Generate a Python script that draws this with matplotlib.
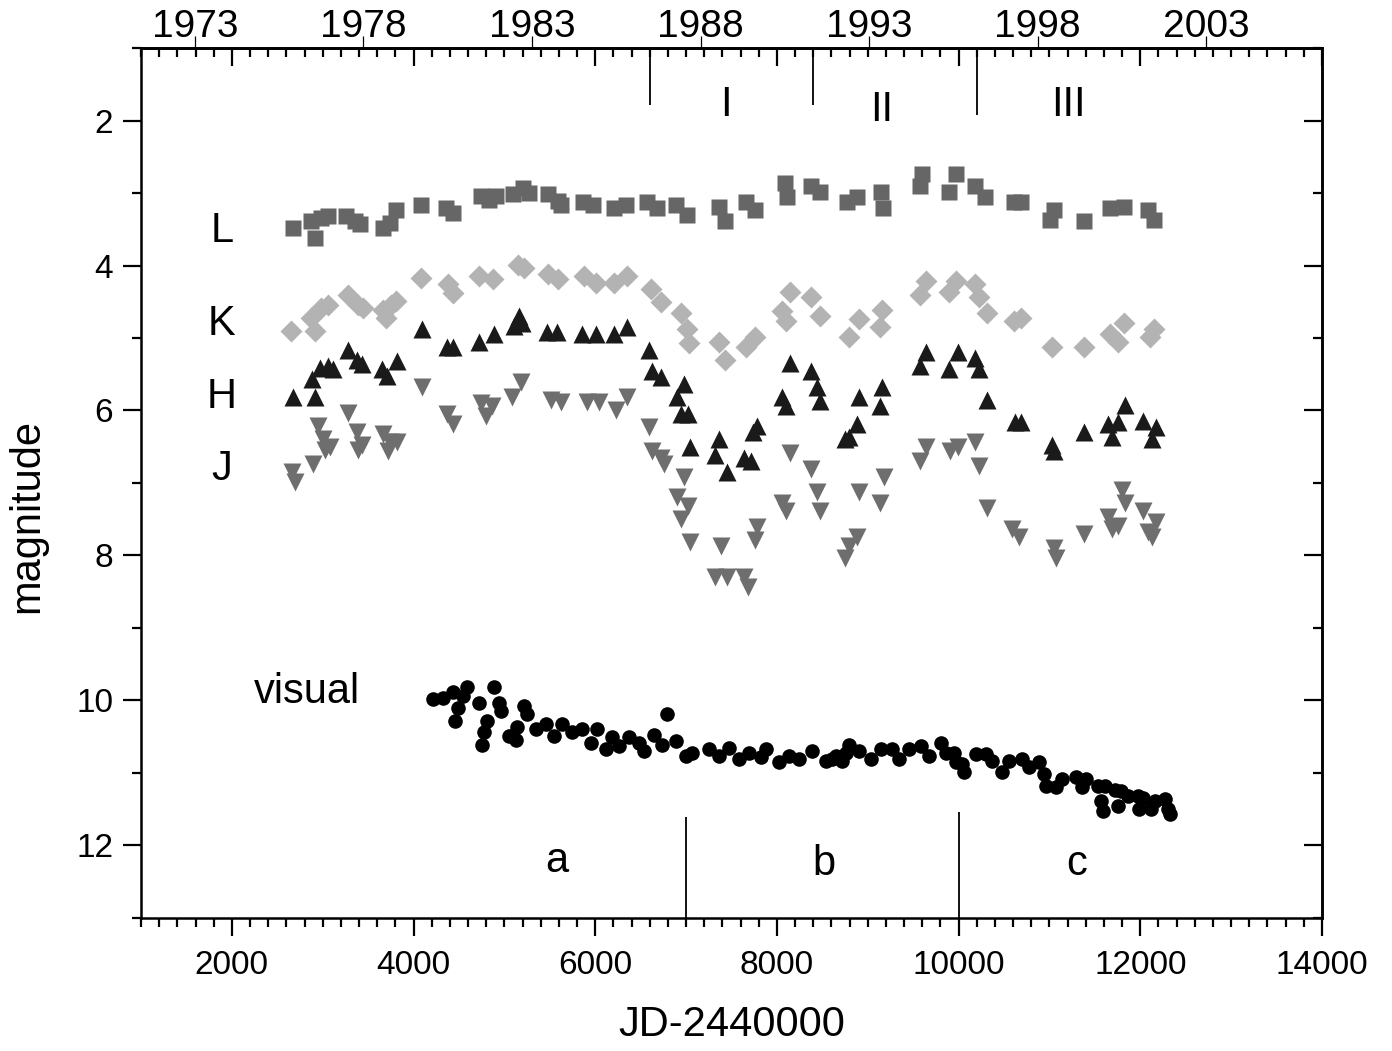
import numpy as np
import matplotlib
matplotlib.use("Agg")
import matplotlib.pyplot as plt
from matplotlib.ticker import MultipleLocator, NullFormatter

plt.rcParams['font.family'] = ['Liberation Sans', 'DejaVu Sans']

# L band (squares)
L_jd = [2674, 2876, 2912, 2986, 3058, 3261, 3352, 3407, 3663, 3736, 3810, 4085, 4360, 4432, 4744,
        4835, 4909, 5092, 5201, 5275, 5476, 5586, 5623, 5861, 5971, 6209, 6338, 6575, 6685, 6887,
        7015, 7363, 7429, 7660, 7759, 8090, 8110, 8374, 8473, 8770, 8880, 9150, 9170, 9594, 9572,
        9968, 9891, 10177, 10286, 10605, 10682, 11045, 11001, 11375, 11671, 11825, 12089, 12155]
L_mag = [3.48, 3.39, 3.62, 3.34, 3.32, 3.32, 3.39, 3.43, 3.48, 3.41, 3.23, 3.16, 3.20, 3.27, 3.04,
         3.09, 3.04, 3.02, 2.93, 3.00, 3.02, 3.11, 3.16, 3.13, 3.16, 3.20, 3.16, 3.13, 3.20, 3.16,
         3.30, 3.19, 3.39, 3.12, 3.23, 2.86, 3.05, 2.91, 2.98, 3.13, 3.06, 2.99, 3.20, 2.74, 2.91,
         2.74, 2.98, 2.91, 3.06, 3.12, 3.12, 3.23, 3.37, 3.39, 3.20, 3.19, 3.23, 3.37]

# K band (diamonds)
K_jd = [2656, 2912, 2876, 2986, 3058, 3278, 3388, 3443, 3663, 3755, 3810, 3700, 4085, 4378, 4432,
        4726, 4872, 5147, 5220, 5476, 5586, 5879, 6008, 6209, 6355, 6612, 6722, 6942, 7015, 7033,
        7363, 7429, 7660, 7759, 8143, 8055, 8099, 8374, 8473, 8792, 8902, 9155, 9133, 9638, 9572,
        9968, 9891, 10177, 10221, 10308, 10605, 10682, 11023, 11375, 11671, 11825, 11759, 12111, 12155]
K_mag = [4.91, 4.91, 4.72, 4.58, 4.54, 4.40, 4.54, 4.58, 4.61, 4.54, 4.49, 4.72, 4.17, 4.26, 4.38,
         4.15, 4.19, 3.99, 4.03, 4.12, 4.19, 4.15, 4.24, 4.24, 4.15, 4.33, 4.51, 4.65, 4.88, 5.07,
         5.06, 5.30, 5.12, 4.98, 4.37, 4.63, 4.77, 4.44, 4.70, 4.98, 4.74, 4.61, 4.85, 4.22, 4.40,
         4.22, 4.37, 4.26, 4.43, 4.65, 4.77, 4.72, 5.13, 5.12, 4.95, 4.79, 5.05, 4.98, 4.88]

# H band (up triangles)
H_jd = [2670, 2912, 2879, 2967, 3055, 3110, 3275, 3374, 3429, 3649, 3813, 3703, 4088, 4363, 4429,
        4726, 4890, 5165, 5198, 5110, 5473, 5583, 5857, 6011, 6209, 6352, 6594, 6627, 6726, 6979,
        6902, 6946, 7022, 7044, 7363, 7319, 7451, 7638, 7715, 7781, 7737, 8143, 8055, 8099, 8374,
        8440, 8473, 8902, 9155, 9133, 8880, 8792, 8748, 9638, 9572, 9990, 9891, 10177, 10221, 10308,
        10616, 10682, 11023, 11045, 11375, 11649, 11759, 11693, 11836, 12034, 12177, 12133]
H_mag = [5.82, 5.82, 5.57, 5.41, 5.39, 5.43, 5.16, 5.30, 5.36, 5.43, 5.32, 5.53, 4.88, 5.13, 5.13,
         5.05, 4.95, 4.70, 4.79, 4.84, 4.92, 4.92, 4.95, 4.95, 4.95, 4.85, 5.16, 5.46, 5.54, 5.64,
         5.81, 6.05, 6.05, 6.50, 6.40, 6.61, 6.85, 6.65, 6.70, 6.22, 6.30, 5.34, 5.82, 5.94, 5.46,
         5.67, 5.87, 5.82, 5.67, 5.94, 6.19, 6.36, 6.40, 5.19, 5.39, 5.19, 5.43, 5.27, 5.43, 5.85,
         6.16, 6.16, 6.47, 6.56, 6.30, 6.19, 6.16, 6.36, 5.92, 6.15, 6.23, 6.40]

# J band (down triangles)
J_jd = [2659, 2692, 2890, 2945, 3000, 3077, 3022, 3275, 3374, 3429, 3385, 3659, 3736, 3813, 3714,
        4088, 4363, 4429, 4748, 4802, 4868, 5088, 5187, 5517, 5627, 5912, 6044, 6231, 6352, 6594,
        6627, 6726, 6759, 6979, 6902, 7022, 6946, 7044, 7385, 7319, 7451, 7682, 7638, 7759, 7781,
        8143, 8055, 8099, 8374, 8440, 8473, 8902, 9177, 9133, 8880, 8792, 8748, 9638, 9572, 9902,
        9990, 10177, 10221, 10308, 10583, 10660, 11045, 11067, 11375, 11803, 11836, 11649, 11759, 11693,
        12034, 12177, 12089, 12133]
J_mag = [6.85, 6.99, 6.74, 6.22, 6.40, 6.50, 6.54, 6.03, 6.30, 6.47, 6.54, 6.33, 6.44, 6.44, 6.56,
         5.68, 6.05, 6.19, 5.89, 6.08, 5.94, 5.82, 5.61, 5.85, 5.88, 5.88, 5.88, 5.99, 5.82, 6.23,
         6.56, 6.65, 6.74, 6.92, 7.20, 7.32, 7.50, 7.81, 7.87, 8.29, 8.30, 8.44, 8.29, 7.78, 7.61,
         6.58, 7.27, 7.39, 6.81, 7.12, 7.39, 7.12, 6.92, 7.27, 7.74, 7.87, 8.03, 6.51, 6.70, 6.56,
         6.50, 6.44, 6.77, 7.34, 7.64, 7.74, 7.89, 8.03, 7.71, 7.09, 7.27, 7.47, 7.60, 7.64,
         7.39, 7.54, 7.68, 7.74]

# visual (circles)
V_jd = [4209, 4319, 4429, 4583, 4484, 4451, 4539, 4726, 4813, 4780, 4758, 4890, 4945, 4967, 5055,
        5132, 5143, 5220, 5253, 5352, 5462, 5550, 5638, 5748, 5857, 5956, 6022, 6121, 6187, 6264,
        6374, 6484, 6539, 6649, 6737, 6792, 6891, 7000, 7066, 7253, 7363, 7473, 7583, 7693, 7825,
        7880, 8023, 8132, 8242, 8385, 8539, 8649, 8759, 8605, 8715, 8792, 8902, 9034, 9144, 9265,
        9341, 9451, 9583, 9671, 9803, 9858, 9946, 9968, 10056, 10040, 10188, 10297, 10363, 10473, 10550,
        10693, 10770, 10880, 10935, 10957, 11067, 11133, 11287, 11353, 11407, 11539, 11616, 11726, 11792, 11869,
        11572, 11594, 11759, 11979, 12034, 11990, 12122, 12166, 12276, 12309, 12331]
V_mag = [9.98, 9.96, 9.89, 9.81, 10.10, 10.29, 9.94, 10.03, 10.29, 10.44, 10.61, 9.81, 10.03, 10.15, 10.49,
         10.54, 10.36, 10.08, 10.19, 10.40, 10.33, 10.49, 10.33, 10.44, 10.40, 10.58, 10.40, 10.67, 10.51, 10.63,
         10.51, 10.58, 10.70, 10.47, 10.61, 10.19, 10.56, 10.77, 10.72, 10.67, 10.77, 10.65, 10.81, 10.72, 10.78,
         10.67, 10.85, 10.77, 10.81, 10.70, 10.84, 10.77, 10.72, 10.81, 10.84, 10.61, 10.70, 10.81, 10.67, 10.67,
         10.81, 10.67, 10.63, 10.77, 10.58, 10.72, 10.72, 10.85, 10.99, 10.88, 10.74, 10.74, 10.84, 10.99, 10.84,
         10.81, 10.92, 10.85, 11.02, 11.18, 11.20, 11.09, 11.05, 11.20, 11.09, 11.18, 11.18, 11.23, 11.25, 11.32,
         11.39, 11.53, 11.46, 11.32, 11.34, 11.50, 11.50, 11.39, 11.36, 11.50, 11.57]

# epoch separators
top_sep_jd = [6600, 8400, 10200]
top_sep_end = [1.78, 1.78, 1.92]
bot_sep_jd = [7000, 10000]
bot_sep_start = [11.61, 11.54]

year_ticks = [1973, 1978, 1983, 1988, 1993, 1998, 2003]


# top axis: calendar year (as drawn in the original)
def jd2yr(jd):
    return 1973 + (np.asarray(jd) - 1594.0) / 371.0


def yr2jd(yr):
    return 1594.0 + (np.asarray(yr) - 1973) * 371.0


fig = plt.figure(figsize=(13.92, 10.51), dpi=100)
ax = fig.add_axes([0.1013, 0.1266, 0.8484, 0.8277])

ax.plot(L_jd, L_mag, 's', color='#666666', ms=11, mec='none')
ax.plot(K_jd, K_mag, 'D', color='#b3b3b3', ms=11, mec='none')
ax.plot(J_jd, J_mag, 'v', color='#6e6e6e', ms=13.5, mec='none')
ax.plot(H_jd, H_mag, '^', color='#1a1a1a', ms=13.5, mec='none')
ax.plot(V_jd, V_mag, 'o', color='black', ms=10.5, mec='none')

ax.vlines(top_sep_jd, 1.0, top_sep_end, color='black', lw=1.3)
ax.vlines(bot_sep_jd, bot_sep_start, 13.0, color='black', lw=1.3)

ax.set_xlim(1000, 14000)
ax.set_ylim(13, 1)

fs_lab = 30
for txt, x, y in [('L', 1890, 3.53), ('K', 1890, 4.81), ('H', 1890, 5.82), ('J', 1890, 6.81),
                  ('visual', 2824, 9.88), ('I', 7440, 1.78), ('II', 9155, 1.85), ('III', 11210, 1.78),
                  ('a', 5572, 12.22), ('b', 8517, 12.26), ('c', 11298, 12.26)]:
    ax.text(x, y, txt, fontsize=fs_lab, ha='center', va='center')

for sp in ax.spines.values():
    sp.set_linewidth(1.8)

ax.xaxis.set_major_locator(MultipleLocator(2000))
ax.xaxis.set_minor_locator(MultipleLocator(200))
ax.yaxis.set_major_locator(MultipleLocator(2))
ax.yaxis.set_minor_locator(MultipleLocator(1))
ax.tick_params(which='both', direction='out', top=False, right=False, width=1.6)
ax.tick_params(which='major', length=13, labelsize=24)
ax.tick_params(which='minor', length=6.5)
ax.tick_params(axis='x', which='major', pad=10)
ax.tick_params(axis='y', which='major', pad=7)

# mirrored inward ticks on top and right
top_in = ax.secondary_xaxis('top')
top_in.xaxis.set_major_locator(MultipleLocator(2000))
top_in.xaxis.set_minor_locator(MultipleLocator(200))
top_in.xaxis.set_major_formatter(NullFormatter())
top_in.tick_params(which='both', direction='in', width=1.6)
top_in.tick_params(which='major', length=13)
top_in.tick_params(which='minor', length=6.5)
top_in.spines['top'].set_linewidth(1.8)

right_in = ax.secondary_yaxis('right')
right_in.yaxis.set_major_locator(MultipleLocator(2))
right_in.yaxis.set_minor_locator(MultipleLocator(1))
right_in.yaxis.set_major_formatter(NullFormatter())
right_in.tick_params(which='both', direction='in', width=1.6)
right_in.tick_params(which='major', length=13)
right_in.tick_params(which='minor', length=6.5)
right_in.spines['right'].set_linewidth(1.8)

# year axis
yr_ax = ax.secondary_xaxis('top', functions=(jd2yr, yr2jd))
yr_ax.set_xticks(year_ticks)
yr_ax.xaxis.set_minor_locator(plt.NullLocator())
yr_ax.tick_params(which='major', direction='out', length=9, width=0.9, labelsize=28, pad=-7)
yr_ax.spines['top'].set_linewidth(1.8)

ax.set_xlabel('JD-2440000', fontsize=30)
ax.set_ylabel('magnitude', fontsize=30)
ax.xaxis.set_label_coords(0.5, -0.10)
ax.yaxis.set_label_coords(-0.079, 0.462)

fig.savefig('out.png', dpi=100)
